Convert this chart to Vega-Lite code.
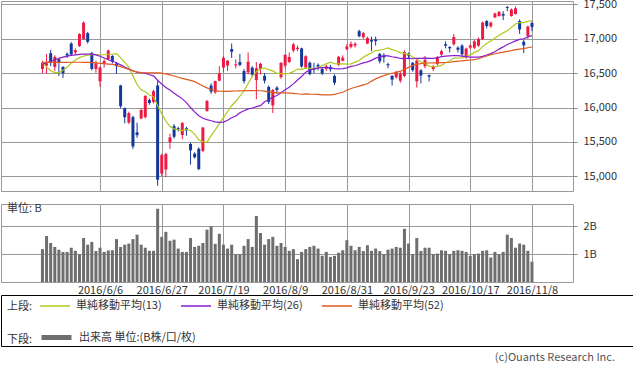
{
"$schema":"https://vega.github.io/schema/vega-lite/v6.json",
"padding":{"top":-3,"left":0,"right":0,"bottom":0},
"background":"white",
"bounds":"flush",
"spacing":13,
"config":{
 "font":"Noto Sans CJK JP",
 "view":{"stroke":"#999999"},
 "axis":{"labelFont":"Noto Sans CJK JP","labelFontSize":11,"labelColor":"#333333","gridColor":"#999999","gridWidth":1,"gridOpacity":1,"domain":false,"tickColor":"#888888"}
},
"datasets":{"d":[
{"i":1,"date":"2016/5/17","o":16560,"h":16680,"l":16500,"c":16652,"vol":1.18,"ma13":16651,"ma26":16628,"ma52":16655},
{"i":2,"date":"2016/5/18","o":16610,"h":16778,"l":16490,"c":16644,"vol":1.65,"ma13":16590,"ma26":16650,"ma52":16655},
{"i":3,"date":"2016/5/19","o":16790,"h":16836,"l":16600,"c":16646,"vol":1.40,"ma13":16535,"ma26":16672,"ma52":16655},
{"i":4,"date":"2016/5/20","o":16590,"h":16760,"l":16530,"c":16736,"vol":1.26,"ma13":16508,"ma26":16695,"ma52":16656},
{"i":5,"date":"2016/5/23","o":16700,"h":16720,"l":16460,"c":16654,"vol":1.16,"ma13":16506,"ma26":16715,"ma52":16657},
{"i":6,"date":"2016/5/24","o":16590,"h":16600,"l":16430,"c":16498,"vol":1.08,"ma13":16540,"ma26":16732,"ma52":16657},
{"i":7,"date":"2016/5/25","o":16780,"h":16800,"l":16720,"c":16757,"vol":1.08,"ma13":16590,"ma26":16748,"ma52":16657},
{"i":8,"date":"2016/5/26","o":16930,"h":16950,"l":16750,"c":16772,"vol":1.23,"ma13":16645,"ma26":16758,"ma52":16658},
{"i":9,"date":"2016/5/27","o":16800,"h":16860,"l":16770,"c":16834,"vol":1.12,"ma13":16690,"ma26":16765,"ma52":16658},
{"i":10,"date":"2016/5/30","o":16894,"h":17080,"l":16880,"c":17068,"vol":1.00,"ma13":16725,"ma26":16772,"ma52":16658},
{"i":11,"date":"2016/5/31","o":16996,"h":17251,"l":16980,"c":17234,"vol":1.58,"ma13":16748,"ma26":16776,"ma52":16657},
{"i":12,"date":"2016/6/1","o":17080,"h":17100,"l":16930,"c":16955,"vol":1.34,"ma13":16762,"ma26":16778,"ma52":16655},
{"i":13,"date":"2016/6/2","o":16790,"h":16810,"l":16540,"c":16562,"vol":1.44,"ma13":16770,"ma26":16775,"ma52":16652},
{"i":14,"date":"2016/6/3","o":16560,"h":16680,"l":16506,"c":16642,"vol":1.11,"ma13":16769,"ma26":16765,"ma52":16648},
{"i":15,"date":"2016/6/6","o":16380,"h":16600,"l":16300,"c":16580,"vol":1.23,"ma13":16765,"ma26":16745,"ma52":16642},
{"i":16,"date":"2016/6/7","o":16640,"h":16700,"l":16580,"c":16675,"vol":1.08,"ma13":16767,"ma26":16720,"ma52":16637},
{"i":17,"date":"2016/6/8","o":16700,"h":16840,"l":16690,"c":16830,"vol":1.13,"ma13":16774,"ma26":16695,"ma52":16632},
{"i":18,"date":"2016/6/9","o":16750,"h":16760,"l":16640,"c":16668,"vol":1.14,"ma13":16775,"ma26":16672,"ma52":16626},
{"i":19,"date":"2016/6/10","o":16640,"h":16660,"l":16490,"c":16601,"vol":1.54,"ma13":16783,"ma26":16650,"ma52":16612},
{"i":20,"date":"2016/6/13","o":16320,"h":16330,"l":15990,"c":16019,"vol":1.26,"ma13":16726,"ma26":16620,"ma52":16595},
{"i":21,"date":"2016/6/14","o":15990,"h":16000,"l":15770,"c":15859,"vol":1.34,"ma13":16656,"ma26":16590,"ma52":16575},
{"i":22,"date":"2016/6/15","o":15780,"h":15940,"l":15760,"c":15919,"vol":1.38,"ma13":16586,"ma26":16560,"ma52":16555},
{"i":23,"date":"2016/6/16","o":15860,"h":15880,"l":15400,"c":15434,"vol":1.54,"ma13":16460,"ma26":16535,"ma52":16533},
{"i":24,"date":"2016/6/17","o":15640,"h":15780,"l":15560,"c":15599,"vol":1.70,"ma13":16334,"ma26":16515,"ma52":16515},
{"i":25,"date":"2016/6/20","o":15840,"h":15990,"l":15830,"c":15965,"vol":1.34,"ma13":16258,"ma26":16505,"ma52":16506},
{"i":26,"date":"2016/6/21","o":15860,"h":16180,"l":15840,"c":16169,"vol":1.23,"ma13":16228,"ma26":16499,"ma52":16505},
{"i":27,"date":"2016/6/22","o":16110,"h":16130,"l":16040,"c":16065,"vol":1.12,"ma13":16183,"ma26":16476,"ma52":16505},
{"i":28,"date":"2016/6/23","o":16080,"h":16260,"l":16060,"c":16238,"vol":1.12,"ma13":16157,"ma26":16461,"ma52":16505},
{"i":29,"date":"2016/6/24","o":16320,"h":16389,"l":14864,"c":14952,"vol":2.63,"ma13":16025,"ma26":16396,"ma52":16503},
{"i":30,"date":"2016/6/27","o":15040,"h":15330,"l":15000,"c":15309,"vol":1.62,"ma13":15908,"ma26":16341,"ma52":16500},
{"i":31,"date":"2016/6/28","o":15100,"h":15340,"l":14990,"c":15323,"vol":1.80,"ma13":15804,"ma26":16290,"ma52":16490},
{"i":32,"date":"2016/6/29","o":15500,"h":15620,"l":15400,"c":15566,"vol":1.48,"ma13":15724,"ma26":16254,"ma52":16475},
{"i":33,"date":"2016/6/30","o":15730,"h":15760,"l":15550,"c":15575,"vol":1.52,"ma13":15690,"ma26":16208,"ma52":16458},
{"i":34,"date":"2016/7/1","o":15700,"h":15720,"l":15650,"c":15682,"vol":1.20,"ma13":15677,"ma26":16166,"ma52":16440},
{"i":35,"date":"2016/7/4","o":15600,"h":15790,"l":15540,"c":15775,"vol":1.08,"ma13":15666,"ma26":16126,"ma52":16424},
{"i":36,"date":"2016/7/5","o":15700,"h":15720,"l":15590,"c":15669,"vol":1.08,"ma13":15684,"ma26":16072,"ma52":16410},
{"i":37,"date":"2016/7/6","o":15470,"h":15490,"l":15170,"c":15378,"vol":1.58,"ma13":15667,"ma26":16000,"ma52":16395},
{"i":38,"date":"2016/7/7","o":15330,"h":15350,"l":15260,"c":15276,"vol":1.26,"ma13":15614,"ma26":15936,"ma52":16376},
{"i":39,"date":"2016/7/8","o":15400,"h":15420,"l":15090,"c":15106,"vol":1.30,"ma13":15532,"ma26":15880,"ma52":16345},
{"i":40,"date":"2016/7/11","o":15370,"h":15720,"l":15350,"c":15708,"vol":1.40,"ma13":15504,"ma26":15844,"ma52":16313},
{"i":41,"date":"2016/7/12","o":15950,"h":16110,"l":15940,"c":16095,"vol":1.88,"ma13":15493,"ma26":15825,"ma52":16285},
{"i":42,"date":"2016/7/13","o":16320,"h":16350,"l":16200,"c":16231,"vol":1.99,"ma13":15592,"ma26":15808,"ma52":16262},
{"i":43,"date":"2016/7/14","o":16220,"h":16390,"l":16200,"c":16385,"vol":1.37,"ma13":15675,"ma26":15791,"ma52":16245},
{"i":44,"date":"2016/7/15","o":16390,"h":16600,"l":16380,"c":16497,"vol":1.73,"ma13":15765,"ma26":15784,"ma52":16238},
{"i":45,"date":"2016/7/19","o":16580,"h":16750,"l":16510,"c":16723,"vol":1.34,"ma13":15854,"ma26":15789,"ma52":16236},
{"i":46,"date":"2016/7/20","o":16610,"h":16690,"l":16530,"c":16681,"vol":1.20,"ma13":15939,"ma26":15815,"ma52":16236},
{"i":47,"date":"2016/7/21","o":16850,"h":16930,"l":16720,"c":16810,"vol":1.34,"ma13":16026,"ma26":15851,"ma52":16238},
{"i":48,"date":"2016/7/22","o":16610,"h":16700,"l":16570,"c":16627,"vol":1.00,"ma13":16091,"ma26":15878,"ma52":16240},
{"i":49,"date":"2016/7/25","o":16660,"h":16780,"l":16600,"c":16620,"vol":1.00,"ma13":16164,"ma26":15924,"ma52":16242},
{"i":50,"date":"2016/7/26","o":16530,"h":16560,"l":16350,"c":16383,"vol":1.30,"ma13":16242,"ma26":15954,"ma52":16244},
{"i":51,"date":"2016/7/27","o":16510,"h":16800,"l":16480,"c":16665,"vol":1.54,"ma13":16349,"ma26":15981,"ma52":16245},
{"i":52,"date":"2016/7/28","o":16580,"h":16600,"l":16440,"c":16476,"vol":1.26,"ma13":16454,"ma26":15993,"ma52":16246},
{"i":53,"date":"2016/7/29","o":16400,"h":16660,"l":16120,"c":16569,"vol":2.37,"ma13":16520,"ma26":16012,"ma52":16244},
{"i":54,"date":"2016/8/1","o":16560,"h":16650,"l":16480,"c":16635,"vol":1.76,"ma13":16562,"ma26":16028,"ma52":16244},
{"i":55,"date":"2016/8/2","o":16460,"h":16500,"l":16350,"c":16391,"vol":1.34,"ma13":16574,"ma26":16083,"ma52":16239},
{"i":56,"date":"2016/8/3","o":16300,"h":16320,"l":16050,"c":16083,"vol":1.54,"ma13":16551,"ma26":16113,"ma52":16227},
{"i":57,"date":"2016/8/4","o":16030,"h":16270,"l":15920,"c":16254,"vol":1.62,"ma13":16532,"ma26":16149,"ma52":16219},
{"i":58,"date":"2016/8/5","o":16290,"h":16310,"l":16200,"c":16254,"vol":1.30,"ma13":16496,"ma26":16175,"ma52":16214},
{"i":59,"date":"2016/8/8","o":16440,"h":16660,"l":16420,"c":16650,"vol":1.40,"ma13":16494,"ma26":16216,"ma52":16212},
{"i":60,"date":"2016/8/9","o":16610,"h":16780,"l":16570,"c":16764,"vol":1.26,"ma13":16490,"ma26":16258,"ma52":16212},
{"i":61,"date":"2016/8/10","o":16660,"h":16800,"l":16650,"c":16735,"vol":1.12,"ma13":16498,"ma26":16295,"ma52":16210},
{"i":62,"date":"2016/8/12","o":16830,"h":16940,"l":16800,"c":16919,"vol":1.18,"ma13":16521,"ma26":16343,"ma52":16207},
{"i":63,"date":"2016/8/15","o":16850,"h":16900,"l":16820,"c":16869,"vol":0.82,"ma13":16559,"ma26":16400,"ma52":16200},
{"i":64,"date":"2016/8/16","o":16860,"h":16870,"l":16580,"c":16596,"vol":1.08,"ma13":16554,"ma26":16451,"ma52":16193},
{"i":65,"date":"2016/8/17","o":16580,"h":16760,"l":16560,"c":16745,"vol":1.18,"ma13":16574,"ma26":16514,"ma52":16197},
{"i":66,"date":"2016/8/18","o":16650,"h":16670,"l":16470,"c":16486,"vol":1.26,"ma13":16568,"ma26":16544,"ma52":16194},
{"i":67,"date":"2016/8/19","o":16560,"h":16650,"l":16500,"c":16545,"vol":1.30,"ma13":16561,"ma26":16561,"ma52":16193},
{"i":68,"date":"2016/8/22","o":16620,"h":16640,"l":16540,"c":16598,"vol":1.20,"ma13":16577,"ma26":16575,"ma52":16192},
{"i":69,"date":"2016/8/23","o":16560,"h":16580,"l":16470,"c":16497,"vol":0.94,"ma13":16609,"ma26":16580,"ma52":16185},
{"i":70,"date":"2016/8/24","o":16560,"h":16620,"l":16530,"c":16597,"vol":1.08,"ma13":16635,"ma26":16584,"ma52":16184},
{"i":71,"date":"2016/8/25","o":16590,"h":16620,"l":16520,"c":16556,"vol":0.90,"ma13":16658,"ma26":16577,"ma52":16183},
{"i":72,"date":"2016/8/26","o":16460,"h":16480,"l":16330,"c":16360,"vol":0.94,"ma13":16636,"ma26":16565,"ma52":16190},
{"i":73,"date":"2016/8/29","o":16620,"h":16750,"l":16600,"c":16737,"vol":1.05,"ma13":16634,"ma26":16562,"ma52":16207},
{"i":74,"date":"2016/8/30","o":16680,"h":16760,"l":16670,"c":16725,"vol":1.14,"ma13":16633,"ma26":16566,"ma52":16222},
{"i":75,"date":"2016/8/31","o":16850,"h":16920,"l":16830,"c":16887,"vol":1.50,"ma13":16631,"ma26":16576,"ma52":16250},
{"i":76,"date":"2016/9/1","o":16880,"h":16960,"l":16860,"c":16926,"vol":1.30,"ma13":16635,"ma26":16597,"ma52":16276},
{"i":77,"date":"2016/9/2","o":16900,"h":16950,"l":16870,"c":16925,"vol":1.14,"ma13":16660,"ma26":16607,"ma52":16294},
{"i":78,"date":"2016/9/5","o":17110,"h":17130,"l":17020,"c":17037,"vol":1.26,"ma13":16683,"ma26":16629,"ma52":16311},
{"i":79,"date":"2016/9/6","o":17020,"h":17100,"l":17000,"c":17081,"vol":1.11,"ma13":16729,"ma26":16648,"ma52":16330},
{"i":80,"date":"2016/9/7","o":16930,"h":17030,"l":16920,"c":17012,"vol":1.32,"ma13":16765,"ma26":16663,"ma52":16345},
{"i":81,"date":"2016/9/8","o":16980,"h":17030,"l":16820,"c":16958,"vol":1.12,"ma13":16792,"ma26":16685,"ma52":16384},
{"i":82,"date":"2016/9/9","o":16990,"h":17030,"l":16900,"c":16965,"vol":1.20,"ma13":16828,"ma26":16718,"ma52":16416},
{"i":83,"date":"2016/9/12","o":16780,"h":16790,"l":16640,"c":16672,"vol":1.11,"ma13":16834,"ma26":16735,"ma52":16442},
{"i":84,"date":"2016/9/13","o":16750,"h":16790,"l":16650,"c":16729,"vol":1.00,"ma13":16847,"ma26":16753,"ma52":16464},
{"i":85,"date":"2016/9/14","o":16630,"h":16650,"l":16570,"c":16614,"vol":1.16,"ma13":16867,"ma26":16751,"ma52":16484},
{"i":86,"date":"2016/9/15","o":16460,"h":16470,"l":16320,"c":16405,"vol":1.20,"ma13":16841,"ma26":16738,"ma52":16498},
{"i":87,"date":"2016/9/16","o":16440,"h":16530,"l":16420,"c":16519,"vol":1.26,"ma13":16825,"ma26":16729,"ma52":16512},
{"i":88,"date":"2016/9/20","o":16390,"h":16520,"l":16360,"c":16492,"vol":1.23,"ma13":16795,"ma26":16713,"ma52":16528},
{"i":89,"date":"2016/9/21","o":16460,"h":16830,"l":16440,"c":16807,"vol":1.91,"ma13":16786,"ma26":16710,"ma52":16555},
{"i":90,"date":"2016/9/23","o":16780,"h":16800,"l":16700,"c":16754,"vol":1.38,"ma13":16773,"ma26":16717,"ma52":16584},
{"i":91,"date":"2016/9/26","o":16650,"h":16660,"l":16520,"c":16544,"vol":1.00,"ma13":16735,"ma26":16709,"ma52":16611},
{"i":92,"date":"2016/9/27","o":16380,"h":16700,"l":16290,"c":16683,"vol":1.58,"ma13":16704,"ma26":16716,"ma52":16630},
{"i":93,"date":"2016/9/28","o":16540,"h":16560,"l":16350,"c":16465,"vol":1.11,"ma13":16662,"ma26":16713,"ma52":16637},
{"i":94,"date":"2016/9/29","o":16600,"h":16750,"l":16570,"c":16693,"vol":1.23,"ma13":16642,"ma26":16717,"ma52":16646},
{"i":95,"date":"2016/9/30","o":16470,"h":16480,"l":16380,"c":16449,"vol":1.23,"ma13":16602,"ma26":16715,"ma52":16647},
{"i":96,"date":"2016/10/3","o":16560,"h":16620,"l":16530,"c":16598,"vol":1.00,"ma13":16596,"ma26":16715,"ma52":16649},
{"i":97,"date":"2016/10/4","o":16630,"h":16750,"l":16610,"c":16735,"vol":1.02,"ma13":16597,"ma26":16722,"ma52":16650},
{"i":98,"date":"2016/10/5","o":16770,"h":16840,"l":16750,"c":16819,"vol":1.14,"ma13":16613,"ma26":16740,"ma52":16652},
{"i":99,"date":"2016/10/6","o":16920,"h":16960,"l":16860,"c":16899,"vol":1.12,"ma13":16651,"ma26":16746,"ma52":16654},
{"i":100,"date":"2016/10/7","o":16880,"h":16890,"l":16800,"c":16860,"vol":1.00,"ma13":16677,"ma26":16751,"ma52":16658},
{"i":101,"date":"2016/10/11","o":16920,"h":17070,"l":16900,"c":17024,"vol":1.12,"ma13":16718,"ma26":16756,"ma52":16666},
{"i":102,"date":"2016/10/12","o":16870,"h":16890,"l":16800,"c":16840,"vol":1.14,"ma13":16720,"ma26":16753,"ma52":16675},
{"i":103,"date":"2016/10/13","o":16900,"h":16920,"l":16740,"c":16774,"vol":1.12,"ma13":16722,"ma26":16747,"ma52":16677},
{"i":104,"date":"2016/10/14","o":16730,"h":16870,"l":16710,"c":16856,"vol":1.08,"ma13":16746,"ma26":16740,"ma52":16684},
{"i":105,"date":"2016/10/17","o":16870,"h":16920,"l":16850,"c":16900,"vol":0.94,"ma13":16763,"ma26":16733,"ma52":16691},
{"i":106,"date":"2016/10/18","o":16870,"h":16980,"l":16850,"c":16963,"vol":1.00,"ma13":16801,"ma26":16731,"ma52":16697},
{"i":107,"date":"2016/10/19","o":16900,"h":17020,"l":16880,"c":16998,"vol":1.02,"ma13":16824,"ma26":16733,"ma52":16709},
{"i":108,"date":"2016/10/20","o":16996,"h":17250,"l":16980,"c":17235,"vol":1.12,"ma13":16885,"ma26":16743,"ma52":16731},
{"i":109,"date":"2016/10/21","o":17257,"h":17270,"l":17150,"c":17184,"vol":1.14,"ma13":16930,"ma26":16763,"ma52":16749},
{"i":110,"date":"2016/10/24","o":17180,"h":17250,"l":17160,"c":17234,"vol":0.88,"ma13":16968,"ma26":16783,"ma52":16768},
{"i":111,"date":"2016/10/25","o":17310,"h":17380,"l":17300,"c":17365,"vol":1.08,"ma13":17010,"ma26":16811,"ma52":16781},
{"i":112,"date":"2016/10/26","o":17330,"h":17400,"l":17320,"c":17391,"vol":1.00,"ma13":17048,"ma26":16849,"ma52":16793},
{"i":113,"date":"2016/10/27","o":17360,"h":17400,"l":17270,"c":17336,"vol":1.08,"ma13":17085,"ma26":16881,"ma52":16805},
{"i":114,"date":"2016/10/28","o":17460,"h":17473,"l":17400,"c":17446,"vol":1.70,"ma13":17117,"ma26":16917,"ma52":16815},
{"i":115,"date":"2016/10/31","o":17330,"h":17440,"l":17320,"c":17425,"vol":1.58,"ma13":17162,"ma26":16941,"ma52":16826},
{"i":116,"date":"2016/11/1","o":17360,"h":17470,"l":17350,"c":17442,"vol":1.23,"ma13":17214,"ma26":16968,"ma52":16842},
{"i":117,"date":"2016/11/2","o":17257,"h":17280,"l":17070,"c":17134,"vol":1.38,"ma13":17235,"ma26":16990,"ma52":16849},
{"i":118,"date":"2016/11/4","o":16956,"h":16980,"l":16790,"c":16905,"vol":1.34,"ma13":17235,"ma26":16999,"ma52":16857},
{"i":119,"date":"2016/11/7","o":17040,"h":17190,"l":17000,"c":17177,"vol":1.12,"ma13":17252,"ma26":17026,"ma52":16869},
{"i":120,"date":"2016/11/8","o":17228,"h":17250,"l":17110,"c":17171,"vol":0.73,"ma13":17265,"ma26":17045,"ma52":16880}
]},
"vconcat":[
{
 "width":572,"height":190,
 "data":{"name":"d"},
 "encoding":{
  "x":{"field":"i","type":"quantitative","scale":{"domain":[-7.86,128.76],"nice":false,"zero":false},
       "axis":{"values":[15,30,45,60,75,90,105,120],"labels":false,"ticks":false,"domain":false,"grid":true,"title":null}}
 },
 "layer":[
  {"mark":{"type":"rule","strokeWidth":1},
   "encoding":{
    "y":{"field":"l","type":"quantitative","scale":{"domain":[14787,17548],"nice":false,"zero":false},
         "axis":{"orient":"right","values":[15000,15500,16000,16500,17000,17500],"labelExpr":"format(datum.value, ',')","grid":true,"tickSize":4,"labelPadding":6,"title":null}},
    "y2":{"field":"h"},
    "color":{"condition":{"test":"datum.c >= datum.o","value":"#ee1a44"},"value":"#13389c"}
   }},
  {"mark":{"type":"bar","width":3},
   "encoding":{
    "y":{"field":"o","type":"quantitative","axis":{"orient":"right","values":[15000,15500,16000,16500,17000,17500],"labelExpr":"format(datum.value, ',')","grid":true,"tickSize":4,"labelPadding":6,"title":null}},
    "y2":{"field":"c"},
    "color":{"condition":{"test":"datum.c >= datum.o","value":"#ee1a44"},"value":"#13389c"}
   }},
  {"mark":{"type":"line","strokeWidth":1.2},
   "encoding":{
    "y":{"field":"ma13","type":"quantitative","axis":{"orient":"right","values":[15000,15500,16000,16500,17000,17500],"labelExpr":"format(datum.value, ',')","grid":true,"tickSize":4,"labelPadding":6,"title":null}},
    "stroke":{"datum":"単純移動平均(13)","type":"nominal",
      "scale":{"domain":["単純移動平均(13)","単純移動平均(26)","単純移動平均(52)"],"range":["#b0c81e","#8a1ccf","#e05a20"]},
      "legend":{"orient":"none","legendX":6,"legendY":289,"direction":"horizontal","title":"上段:","titleOrient":"left","titleAnchor":"middle","titleBaseline":"top","titlePadding":6,"titleFontSize":11,"titleFontWeight":"normal","titleColor":"#333333","titleFont":"Noto Sans CJK JP","symbolType":"stroke","symbolSize":900,"symbolStrokeWidth":1.5,"labelFontSize":11,"labelColor":"#333333","labelFont":"Noto Sans CJK JP","labelOffset":5,"columnPadding":16,"padding":0,"labelLimit":200}}
   }},
  {"mark":{"type":"line","strokeWidth":1.2},
   "encoding":{
    "y":{"field":"ma26","type":"quantitative","axis":{"orient":"right","values":[15000,15500,16000,16500,17000,17500],"labelExpr":"format(datum.value, ',')","grid":true,"tickSize":4,"labelPadding":6,"title":null}},
    "stroke":{"datum":"単純移動平均(26)","type":"nominal"}
   }},
  {"mark":{"type":"line","strokeWidth":1.2},
   "encoding":{
    "y":{"field":"ma52","type":"quantitative","axis":{"orient":"right","values":[15000,15500,16000,16500,17000,17500],"labelExpr":"format(datum.value, ',')","grid":true,"tickSize":4,"labelPadding":6,"title":null}},
    "stroke":{"datum":"単純移動平均(52)","type":"nominal"}
   }}
 ]
},
{
 "width":572,"height":78,
 "data":{"name":"d"},
 "title":{"text":"単位: B","orient":"top","anchor":"start","offset":-10,"dx":6,"fontSize":11,"fontWeight":"normal","color":"#333333","font":"Noto Sans CJK JP"},
 "mark":{"type":"bar","width":3},
 "encoding":{
  "x":{"field":"i","type":"quantitative","scale":{"domain":[-7.86,128.76],"nice":false,"zero":false},
       "axis":{"values":[15,30,45,60,75,90,105,120],"labelExpr":"['2016/6/6','2016/6/27','2016/7/19','2016/8/9','2016/8/31','2016/9/23','2016/10/17','2016/11/8'][round(datum.value/15)-1]","ticks":false,"domain":false,"grid":true,"labelPadding":2,"labelOverlap":false,"labelFlush":false,"title":null}},
  "y":{"field":"vol","type":"quantitative","scale":{"domain":[0,2.8],"nice":false,"zero":true},
       "axis":{"orient":"right","values":[1,2],"labelExpr":"datum.value + 'B'","grid":true,"tickSize":4,"labelPadding":6,"title":null}},
  "fill":{"datum":"出来高 単位:(B株/口/枚)","type":"nominal","scale":{"range":["#6e6e6e"]},
    "legend":{"orient":"none","legendX":6,"legendY":319,"title":"下段:","titleOrient":"left","titleAnchor":"middle","titleBaseline":"top","titlePadding":6,"titleFontSize":11,"titleFontWeight":"normal","titleColor":"#333333","titleFont":"Noto Sans CJK JP","symbolType":"stroke","symbolSize":900,"symbolStrokeWidth":5,"symbolStrokeColor":"#6e6e6e","labelFontSize":11,"labelColor":"#333333","labelFont":"Noto Sans CJK JP","labelOffset":5,"padding":0,"labelLimit":250,
      "encode":{"symbols":{"update":{"stroke":{"value":"#6e6e6e"},"strokeWidth":{"value":5}}}}}}
 }
},
{
 "width":632,"height":51,
 "data":{"values":[{"k":0}]},
 "title":{"text":"(c)Ouants Research Inc.","orient":"bottom","anchor":"end","frame":"group","fontSize":11,"fontWeight":"normal","color":"#555555","offset":6,"dx":-18,"font":"Noto Sans CJK JP"},
 "mark":{"type":"text","text":""},
 "view":{"stroke":"#000000","strokeWidth":1}
}
]
}
